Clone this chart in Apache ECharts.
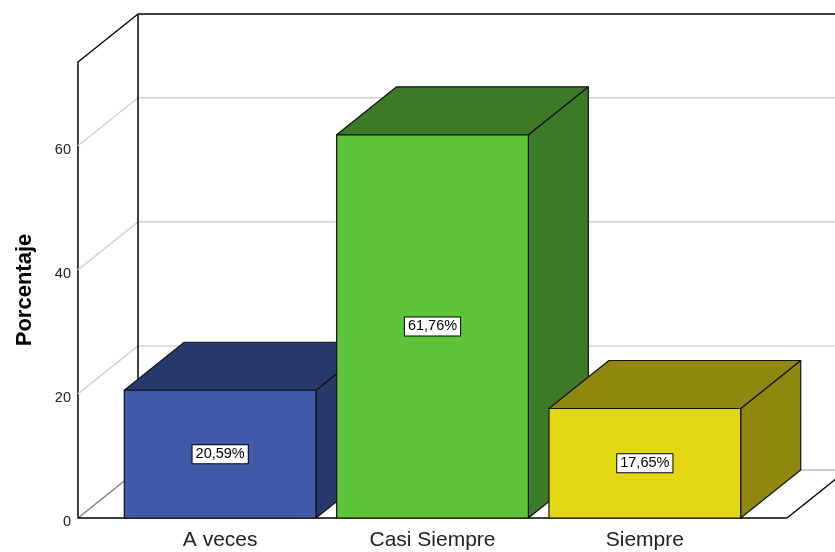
<!DOCTYPE html>
<html>
<head>
<meta charset="utf-8">
<script src="https://cdn.jsdelivr.net/npm/echarts@6/dist/echarts.min.js"></script>
<style>
  html, body { margin: 0; padding: 0; background: #fff; }
  #chart { width: 835px; height: 552px; }
</style>
</head>
<body>
<div id="chart"></div>
<script>
// data
const categories = ['A veces', 'Casi Siempre', 'Siempre']
const percentages = [20.59, 61.76, 17.65]
const percentLabels = ['20,59%', '61,76%', '17,65%']
const gridTicks = [20, 40, 60]

const frontColors = ['#4059a8', '#5ec43a', '#e3d613']
const darkColors = ['#283a6d', '#3d7a28', '#8f870e']

// 3D look
const DX = 60
const DY = -48
const PAD = 36
const Y_MAX = 73.5

const chart = echarts.init(document.getElementById('chart'))

function lineEl(x1, y1, x2, y2, color, w) {
  return {
    type: 'line',
    shape: { x1: x1, y1: y1, x2: x2, y2: y2 },
    style: { stroke: color, lineWidth: w }
  }
}

// walls, floor and grid lines
function renderFrame(params, api) {
  const band = api.size([1, 0])[0]
  const left = api.coord([0, 0])[0] - band / 2 - PAD
  const right = api.coord([categories.length - 1, 0])[0] + band / 2 + PAD
  const y0 = api.coord([0, 0])[1]
  const yTop = api.coord([0, Y_MAX])[1]
  const children = []
  gridTicks.forEach(function (t) {
    const y = api.coord([0, t])[1]
    children.push(lineEl(left, y, left + DX, y + DY, '#d2d2d2', 1.5))
    children.push(lineEl(left + DX, y + DY, right + DX, y + DY, '#d2d2d2', 1.5))
  })
  // floor
  children.push(lineEl(left + DX, y0 + DY, right + DX, y0 + DY, '#bdbdbd', 1.5))
  children.push(lineEl(left, y0, left + DX, y0 + DY, '#808080', 1.5))
  children.push(lineEl(right, y0, right + DX, y0 + DY, '#000', 1.5))
  children.push(lineEl(left, y0, right, y0, '#000', 1.5))
  // walls
  children.push(lineEl(left + DX, yTop + DY, left + DX, y0 + DY, '#000', 1.5))
  children.push(lineEl(left, yTop, left + DX, yTop + DY, '#000', 1.5))
  children.push(lineEl(left + DX, yTop + DY, right + DX, yTop + DY, '#000', 1.5))
  return { type: 'group', children: children }
}

function renderBar(params, api) {
  const i = params.dataIndex
  const base = api.coord([api.value(0), 0])
  const top = api.coord([api.value(0), api.value(1)])
  const bw = api.size([1, 0])[0] * 0.903
  const x0 = base[0] - bw / 2
  const x1 = base[0] + bw / 2
  const yb = base[1]
  const yt = top[1]
  const stroke = { stroke: '#111', lineWidth: 1.2, lineJoin: 'round' }
  return {
    type: 'group',
    children: [
      {
        type: 'polygon',
        shape: { points: [[x1, yb], [x1 + DX, yb + DY], [x1 + DX, yt + DY], [x1, yt]] },
        style: Object.assign({ fill: darkColors[i] }, stroke)
      },
      {
        type: 'polygon',
        shape: { points: [[x0, yt], [x1, yt], [x1 + DX, yt + DY], [x0 + DX, yt + DY]] },
        style: Object.assign({ fill: darkColors[i] }, stroke)
      },
      {
        type: 'rect',
        shape: { x: x0, y: yt, width: bw, height: yb - yt },
        style: Object.assign({ fill: frontColors[i] }, stroke)
      },
      {
        type: 'text',
        x: base[0],
        y: (yb + yt) / 2,
        style: {
          text: percentLabels[i],
          align: 'center',
          verticalAlign: 'middle',
          fontFamily: 'Liberation Sans, Arial, sans-serif',
          fontSize: 14.5,
          fill: '#000',
          backgroundColor: '#fff',
          borderColor: '#000',
          borderWidth: 1,
          padding: [2, 3, 1, 3]
        }
      }
    ]
  }
}

chart.setOption({
  animation: false,
  grid: { left: 114, right: 84, top: 62, bottom: 34, outerBoundsMode: 'none' },
  xAxis: {
    type: 'category',
    data: categories,
    axisLine: { show: false },
    axisTick: { show: false },
    axisLabel: {
      margin: 12,
      fontSize: 21,
      color: '#222',
      fontFamily: 'Liberation Sans, Arial, sans-serif'
    }
  },
  yAxis: {
    type: 'value',
    min: 0,
    max: Y_MAX,
    interval: 20,
    offset: PAD,
    name: 'Porcentaje',
    nameLocation: 'middle',
    nameGap: 42,
    nameTextStyle: {
      fontSize: 22,
      fontWeight: 'bold',
      color: '#000',
      fontFamily: 'Liberation Sans, Arial, sans-serif'
    },
    axisLine: { show: true, lineStyle: { color: '#000', width: 1.5 } },
    axisTick: { show: false },
    splitLine: { show: false },
    axisLabel: {
      margin: 7,
      showMaxLabel: false,
      formatter: '{t|{value}}',
      rich: {
        t: {
          fontSize: 14.5,
          color: '#222',
          padding: [8, 0, 0, 0],
          fontFamily: 'Liberation Sans, Arial, sans-serif'
        }
      }
    }
  },
  series: [
    {
      type: 'custom',
      renderItem: renderFrame,
      data: [[0, 0]],
      z: 1,
      silent: true
    },
    {
      type: 'custom',
      renderItem: renderBar,
      data: percentages.map(function (v, i) { return [i, v] }),
      z: 2
    }
  ]
})
</script>
</body>
</html>
